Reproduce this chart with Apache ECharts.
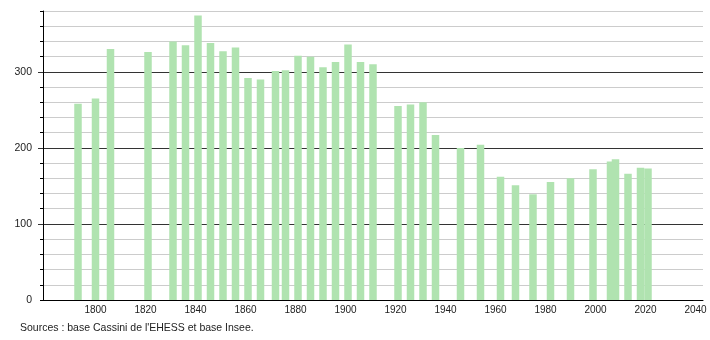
<!DOCTYPE html>
<html>
<head>
<meta charset="utf-8">
<script src="https://cdn.jsdelivr.net/npm/echarts@6/dist/echarts.min.js"></script>
<style>
html,body{margin:0;padding:0;background:#fff;}
#chart{width:710px;height:340px;}
</style>
</head>
<body>
<div id="chart"></div>
<script>
// Data
const years = [1793,1800,1806,1821,1831,1836,1841,1846,1851,1856,1861,1866,1872,1876,1881,1886,1891,1896,1901,1906,1911,1921,1926,1931,1936,1946,1954,1962,1968,1975,1982,1990,1999,2006,2008,2013,2018,2021];
const population = [258,265,330,326,340,335,374,338,327,332,292,290,301,302,321,320,306,313,336,313,310,255,257,260,217,200,204,162,151,139,155,160,172,182,185,166,174,173];
const xTickLabels = [1800,1820,1840,1860,1880,1900,1920,1940,1960,1980,2000,2020,2040];
const yTickLabels = [0,100,200,300];
const sourceText = "Sources : base Cassini de l'EHESS et base Insee.";

const chart = echarts.init(document.getElementById('chart'), null, {renderer:'canvas'});
const font = '"Liberation Sans", Arial, sans-serif';
const seriesData = years.map((y,i)=>[y, population[i]]);

chart.setOption({
  animation:false,
  backgroundColor:'#fff',
  grid:{left:43, right:7, top:11, bottom:40, containLabel:false},
  xAxis:{
    type:'value', min:1779, max:2043,
    axisLine:{show:true, onZero:false, lineStyle:{color:'#000', width:1}},
    axisTick:{show:false},
    splitLine:{show:false},
    axisLabel:{customValues:xTickLabels, color:'#222', fontSize:10, fontFamily:font, margin:5,
      formatter:v=>String(v)}
  },
  yAxis:[{
    type:'value', min:0, max:380, interval:20,
    axisLine:{show:true, lineStyle:{color:'#000', width:1}},
    axisTick:{show:true, length:3, lineStyle:{color:'#000'}},
    axisLabel:{color:'#222', fontSize:10.5, fontFamily:font, margin:11,
      formatter:v=> yTickLabels.indexOf(v)>=0 ? String(v) : ''},
    splitLine:{show:true, lineStyle:{color:['#333','#ccc','#ccc','#ccc','#ccc'], width:1}}
  },{
    type:'value', min:0, max:380, position:'left',
    axisLine:{show:false},
    axisTick:{show:true, length:5, customValues:[100,200,300], lineStyle:{color:'#333'}},
    axisLabel:{show:false},
    splitLine:{show:false}
  }],
  series:[{
    type:'bar', data:seriesData, barWidth:7.5,
    itemStyle:{color:'#b0e3b0'},
    z:1
  }],
  graphic:[{
    type:'text', left:20, top:323,
    style:{text:sourceText, fill:'#222', fontSize:10.5, fontFamily:font}
  }]
});
</script>
</body>
</html>
